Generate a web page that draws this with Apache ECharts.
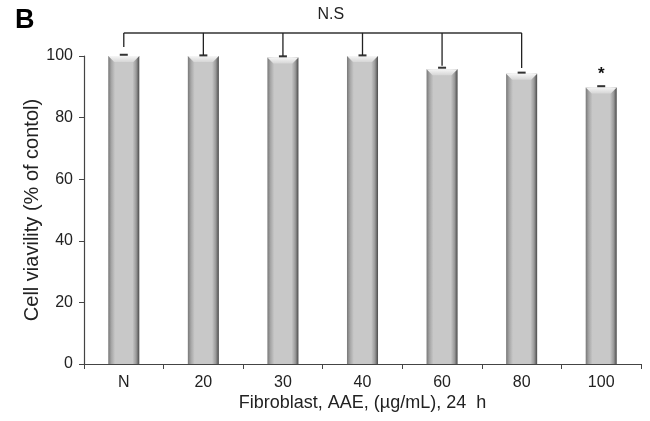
<!DOCTYPE html>
<html>
<head>
<meta charset="utf-8">
<script src="https://cdn.jsdelivr.net/npm/echarts@6/dist/echarts.min.js"></script>
<style>html,body{margin:0;padding:0;background:#fff}#c{width:650px;height:421px}</style>
</head>
<body>
<div id="c"></div>
<script>
const categories = ['N', '20', '30', '40', '60', '80', '100'];
const viability = [100, 100, 99.5, 100, 95.7, 94.2, 89.8];
const errors = [0.4, 0.2, 0.4, 0.2, 0.5, 0.4, 0.4];
const yTicks = [0, 20, 40, 60, 80, 100];
const bracketLevel = 107.5;
const bracketDrops = [102.9, 100.3, 100.0, 100.3, 96.8, 96.1];
const significance = ['', '', '', '', '', '', '*'];
const bracketLabel = 'N.S';

const FONT = 'Liberation Sans, Arial, sans-serif';
const chart = echarts.init(document.getElementById('c'), null, {renderer: 'canvas'});

function barItem(params, api) {
  const i = api.value(0);
  const v = api.value(1);
  const top = api.coord([i, v]);
  const bot = api.coord([i, 0]);
  const w = api.size([1, 0])[0] * 0.39;
  const x0 = top[0] - w / 2, x1 = top[0] + w / 2;
  const y0 = top[1], y1 = bot[1];
  const bev = 6;
  const errTop = api.coord([i, v + errors[i]]);
  return {
    type: 'group',
    children: [
      {
        type: 'rect',
        shape: {x: x0, y: y0, width: w, height: y1 - y0},
        style: {
          fill: new echarts.graphic.LinearGradient(0, 0, 1, 0, [
            {offset: 0, color: '#777'},
            {offset: 0.1, color: '#a6a6a6'},
            {offset: 0.22, color: '#c8c8c8'},
            {offset: 0.78, color: '#c8c8c8'},
            {offset: 0.9, color: '#9a9a9a'},
            {offset: 1, color: '#4a4a4a'}
          ])
        }
      },
      {
        type: 'polygon',
        shape: {points: [[x0, y0], [x1, y0], [x1 - bev, y0 + bev], [x0 + bev, y0 + bev]]},
        style: {
          fill: new echarts.graphic.LinearGradient(0, 0, 0, 1, [
            {offset: 0, color: '#f6f6f6'},
            {offset: 1, color: '#d6d6d6'}
          ])
        }
      },
      {
        type: 'line',
        shape: {x1: top[0] - 4, y1: errTop[1], x2: top[0] + 4, y2: errTop[1]},
        style: {stroke: '#333', lineWidth: 2}
      },
      {
        type: 'text',
        style: {
          text: significance[i], x: top[0], y: errTop[1] - 3,
          align: 'center', verticalAlign: 'bottom',
          font: 'bold 17px ' + FONT, fill: '#111'
        }
      }
    ]
  };
}

function bracketItem(params, api) {
  const n = bracketDrops.length;
  if (params.dataIndex !== 0) return null;
  const children = [];
  const left = api.coord([0, bracketLevel]);
  const right = api.coord([n - 1, bracketLevel]);
  children.push({
    type: 'line',
    shape: {x1: left[0], y1: left[1], x2: right[0], y2: right[1]},
    style: {stroke: '#666', lineWidth: 2}
  });
  for (let k = 0; k < n; k++) {
    const a = api.coord([k, bracketLevel]);
    const b = api.coord([k, bracketDrops[k]]);
    children.push({
      type: 'line',
      shape: {x1: a[0], y1: a[1], x2: b[0], y2: b[1]},
      style: {stroke: '#222', lineWidth: 1.3}
    });
  }
  children.push({
    type: 'text',
    style: {
      text: bracketLabel, x: (left[0] + right[0]) / 2 + 8, y: left[1] - 10,
      align: 'center', verticalAlign: 'bottom',
      font: '16px ' + FONT, fill: '#222'
    }
  });
  return {type: 'group', children: children};
}

chart.setOption({
  animation: false,
  backgroundColor: '#fff',
  title: {
    text: 'B', left: 10, top: 2,
    textStyle: {fontFamily: FONT, fontSize: 27, fontWeight: 'bold', color: '#000'}
  },
  grid: {left: 84, right: 9, top: 56, bottom: 57},
  xAxis: {
    type: 'category',
    data: categories,
    boundaryGap: true,
    name: 'Fibroblast, AAE, (µg/mL), 24  h',
    nameLocation: 'middle',
    nameGap: 30,
    nameMoveOverlap: false,
    nameTextStyle: {fontFamily: FONT, fontSize: 18, color: '#222'},
    axisLine: {lineStyle: {color: '#444', width: 1.2}},
    axisTick: {show: true, interval: 0, length: 5, lineStyle: {color: '#444'}},
    axisLabel: {fontFamily: FONT, fontSize: 16, color: '#222', margin: 11},
    splitLine: {show: false}
  },
  yAxis: {
    type: 'value',
    min: yTicks[0],
    max: yTicks[yTicks.length - 1],
    interval: 20,
    name: 'Cell viavility (% of contol)',
    nameLocation: 'middle',
    nameGap: 42,
    nameMoveOverlap: false,
    nameTextStyle: {fontFamily: FONT, fontSize: 20, color: '#222'},
    axisLine: {show: true, lineStyle: {color: '#444', width: 1.2}},
    axisTick: {show: true, length: 5, lineStyle: {color: '#444'}},
    axisLabel: {fontFamily: FONT, fontSize: 16, color: '#222', margin: 11},
    splitLine: {show: false}
  },
  series: [
    {
      type: 'custom',
      renderItem: barItem,
      clip: false,
      data: viability.map((v, i) => [i, v]),
      encode: {x: 0, y: 1},
      z: 2
    },
    {
      type: 'custom',
      renderItem: bracketItem,
      clip: false,
      data: bracketDrops.map((v, i) => [i, v]),
      encode: {x: 0, y: 1},
      z: 3
    }
  ]
});
</script>
</body>
</html>
